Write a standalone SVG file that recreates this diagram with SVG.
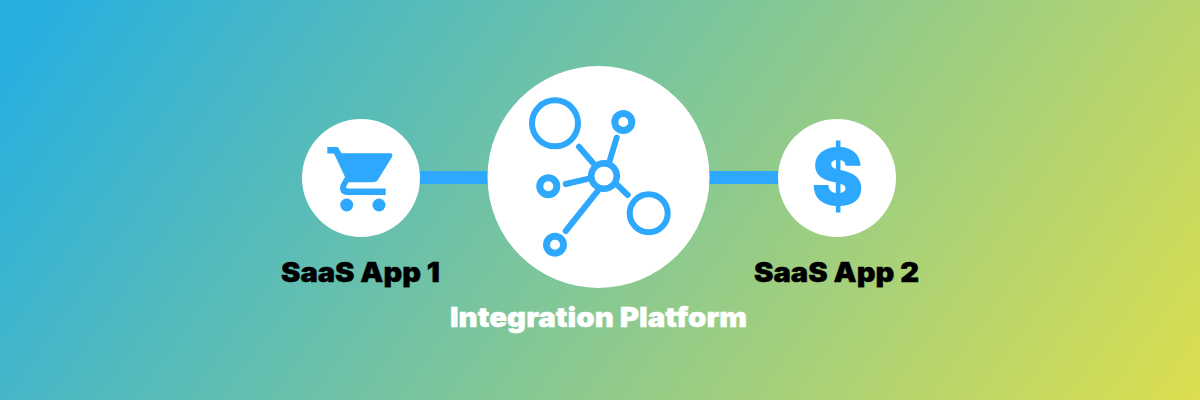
<svg xmlns="http://www.w3.org/2000/svg" width="1200" height="400" viewBox="0 0 1200 400">
<style>
.disc{fill:#fff}
.ic{fill:#2ea8fd}
.ring{fill:none;stroke:#2ea8fd}
.spoke{stroke:#2ea8fd;stroke-width:6;stroke-linecap:round;fill:none}
.bar{fill:#2ea8fd}
.lbl{font-family:Inter,"Liberation Sans",sans-serif;font-weight:900;font-size:27px;stroke-width:.4px}
</style>
<defs>
<linearGradient id="bg" gradientUnits="userSpaceOnUse" x1="10" y1="50" x2="1000" y2="750">
<stop offset="0" stop-color="#27afe0"/>
<stop offset="1" stop-color="#e2e04a"/>
</linearGradient>
</defs>
<rect width="1200" height="400" fill="url(#bg)"/>
<g id="connectors">
<rect class="bar" x="418" y="171" width="72" height="13"/>
<rect class="bar" x="707" y="171" width="73" height="13"/>
</g>
<g id="saas-app-1">
<circle class="disc" cx="361" cy="178" r="59"/>
<path class="ic" d="M327.3 147H337.700L341.700 153.300H390Q393.500 153.300 392 157L379 178Q377 182.300 373 182.300H348.500L346 187Q346 188.500 347.500 188.500H385.700V195H347Q340 195 340 188Q340 186 341 184L345 177L334 153.500H327.300Z"/>
<circle class="ic" cx="346.700" cy="205" r="6.500"/>
<circle class="ic" cx="379" cy="205" r="6.500"/>
<text class="lbl" x="281" y="282" textLength="159" lengthAdjust="spacingAndGlyphs" fill="#000" stroke="#000">SaaS App 1</text>
</g>
<g id="integration-platform">
<circle class="disc" cx="598.500" cy="177" r="111"/>
<circle class="ring" cx="555" cy="123.300" r="23" stroke-width="6"/>
<circle class="ring" cx="623.300" cy="122" r="8.500" stroke-width="7"/>
<circle class="ring" cx="604" cy="176" r="12.800" stroke-width="6.500"/>
<circle class="ring" cx="548.300" cy="186.300" r="8.500" stroke-width="7"/>
<circle class="ring" cx="555" cy="244.700" r="8.500" stroke-width="7"/>
<circle class="ring" cx="648.700" cy="213.300" r="19" stroke-width="6"/>
<path class="spoke" d="M579 146.700L593 163M616.700 137.700L609.300 162M565.700 184L590 178.300M565.700 231L598 190.700M615 182.700L627.700 195"/>
<text class="lbl" x="450" y="326.500" textLength="297" lengthAdjust="spacingAndGlyphs" fill="#fff" stroke="#fff">Integration Platform</text>
</g>
<g id="saas-app-2">
<circle class="disc" cx="837" cy="178" r="59"/>
<text x="837.500" y="204.500" text-anchor="middle" font-family="Inter,'Liberation Sans',sans-serif" font-weight="900" font-size="78" fill="#2ea8fd">$</text>
<text class="lbl" x="754" y="282" textLength="165" lengthAdjust="spacingAndGlyphs" fill="#000" stroke="#000">SaaS App 2</text>
</g>
</svg>
